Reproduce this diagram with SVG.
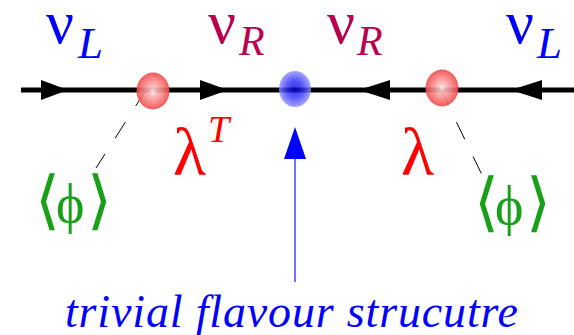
<svg xmlns="http://www.w3.org/2000/svg" width="574" height="335" viewBox="0 0 574 335">
<defs>
<radialGradient id="gr" cx="0.5" cy="0.5" r="0.5">
<stop offset="0" stop-color="#ffffff"/>
<stop offset="0.2" stop-color="#ffc0c0"/>
<stop offset="1" stop-color="#f04848"/>
</radialGradient>
<radialGradient id="gb" cx="0.5" cy="0.5" r="0.5">
<stop offset="0" stop-color="#0000d0"/>
<stop offset="0.5" stop-color="#3030ff"/>
<stop offset="1" stop-color="#9090ff"/>
</radialGradient>
</defs>
<g id="connectors">
<line x1="21" y1="90" x2="574" y2="90" stroke="#000" stroke-width="5"/>
<polygon points="41,80 68,90 41,100" fill="#000"/>
<polygon points="200,80 228,90 200,100" fill="#000"/>
<polygon points="390,80 359,90 390,100" fill="#000"/>
<polygon points="542,80 511,90 542,100" fill="#000"/>
<line x1="146" y1="90" x2="96" y2="168" stroke="#000" stroke-width="1" stroke-dasharray="19 19"/>
<line x1="440" y1="88" x2="483" y2="177" stroke="#000" stroke-width="1" stroke-dasharray="19 19"/>
<line x1="295" y1="158" x2="295" y2="282" stroke="#4040ff" stroke-width="1.5"/>
<polygon points="295,127 306,159 284,159" fill="#0000ff"/>
</g>
<g id="vertex-left"><ellipse cx="153" cy="91" rx="16.5" ry="18.5" fill="url(#gr)" opacity="0.9"/></g>
<g id="vertex-center"><ellipse cx="295" cy="89" rx="16" ry="18" fill="url(#gb)" opacity="0.8"/></g>
<g id="vertex-right"><ellipse cx="442" cy="88" rx="16.5" ry="18.5" fill="url(#gr)" opacity="0.9"/></g>
<g id="labels">
<text x="46" y="43" style="font-family:'Liberation Serif';font-size:62px;fill:#0000ff">ν</text>
<text x="78" y="58" style="font-family:'Liberation Serif';font-size:45px;font-style:italic;fill:#0000ff">L</text>
<text x="208" y="43" style="font-family:'Liberation Serif';font-size:62px;fill:#bb0050">ν</text>
<text x="239" y="55" style="font-family:'Liberation Serif';font-size:42px;font-style:italic;fill:#bb0050">R</text>
<text x="327" y="43" style="font-family:'Liberation Serif';font-size:62px;fill:#bb0050">ν</text>
<text x="357" y="55" style="font-family:'Liberation Serif';font-size:42px;font-style:italic;fill:#bb0050">R</text>
<text x="506" y="43" style="font-family:'Liberation Serif';font-size:62px;fill:#0000ff">ν</text>
<text x="537" y="58" style="font-family:'Liberation Serif';font-size:45px;font-style:italic;fill:#0000ff">L</text>
<text x="173" y="175" style="font-family:'Liberation Serif';font-size:68px;fill:#ff0000">λ</text>
<text x="208" y="142" style="font-family:'Liberation Serif';font-size:38px;font-style:italic;fill:#ff0000">T</text>
<text x="401" y="175" style="font-family:'Liberation Serif';font-size:68px;fill:#ff0000">λ</text>
<text x="56" y="222" style="font-family:'Liberation Serif';font-size:54px;fill:#18a018">ϕ</text>
<text x="35" y="222" style="font-family:'DejaVu Sans';font-size:64px;fill:#18a018">⟨</text>
<text x="87" y="222" style="font-family:'DejaVu Sans';font-size:64px;fill:#18a018">⟩</text>
<text x="495" y="224" style="font-family:'Liberation Serif';font-size:54px;fill:#18a018">ϕ</text>
<text x="474" y="224" style="font-family:'DejaVu Sans';font-size:64px;fill:#18a018">⟨</text>
<text x="526" y="224" style="font-family:'DejaVu Sans';font-size:64px;fill:#18a018">⟩</text>
<text x="65" y="327" style="font-family:'Liberation Serif';font-size:46px;font-style:italic;fill:#0000ff" textLength="453">trivial flavour strucutre</text>
</g>
</svg>
